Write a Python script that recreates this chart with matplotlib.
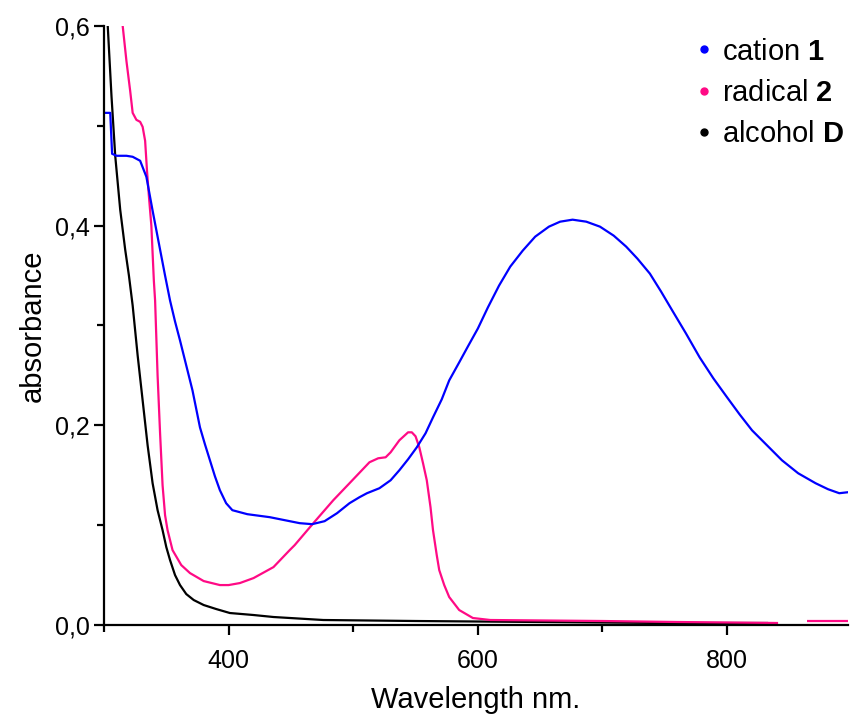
import numpy as np
import matplotlib.pyplot as plt
from matplotlib.lines import Line2D
from matplotlib.ticker import FuncFormatter, MultipleLocator

plt.rcParams['font.family'] = ['Liberation Sans', 'DejaVu Sans']
plt.rcParams['mathtext.fontset'] = 'custom'
plt.rcParams['mathtext.bf'] = 'Liberation Sans:bold'
plt.rcParams['mathtext.rm'] = 'Liberation Sans'

# cation 1 (blue)
wl_cation = [300, 305, 306.5, 310, 318, 323, 329, 334, 339, 345, 349, 353, 357, 361, 366,
             371, 377, 381, 385, 389, 393, 398, 403, 415, 433, 445, 457, 467, 477, 487,
             497, 505, 511, 521, 530, 537, 544, 551, 558, 564, 571, 577, 585, 592, 600,
             608, 617, 626, 636, 646, 657, 666, 676, 687, 698, 709, 719, 728, 738, 747,
             756, 767, 778, 789, 800, 810, 820, 832, 844, 857, 871, 881, 890, 897]
abs_cation = [0.513, 0.513, 0.472, 0.470, 0.470, 0.469, 0.465, 0.449, 0.415, 0.376, 0.350,
              0.325, 0.304, 0.285, 0.260, 0.235, 0.198, 0.181, 0.165, 0.149, 0.135, 0.122,
              0.115, 0.111, 0.108, 0.105, 0.102, 0.101, 0.104, 0.112, 0.122, 0.128, 0.132,
              0.137, 0.145, 0.155, 0.166, 0.178, 0.192, 0.208, 0.226, 0.245, 0.263, 0.279,
              0.297, 0.318, 0.340, 0.359, 0.375, 0.389, 0.399, 0.404, 0.406, 0.404, 0.399,
              0.390, 0.379, 0.367, 0.352, 0.334, 0.315, 0.292, 0.268, 0.247, 0.228, 0.211,
              0.195, 0.180, 0.165, 0.152, 0.142, 0.136, 0.132, 0.133]

# radical 2 (pink)
wl_radical = [314, 315, 318, 321, 323, 326, 329, 331, 333, 334.5, 336, 338, 340, 341, 343,
              345, 347, 349, 351, 355, 362, 369, 380, 393, 400, 409, 420, 436, 449, 453,
              468, 484, 497, 513, 520, 526, 530, 537, 544, 547, 550, 553, 556, 559, 562,
              564, 567, 569, 573, 577, 585, 596, 610, 700, 760, 840, 850, 865, 897]
abs_radical = [0.62, 0.600, 0.565, 0.535, 0.513, 0.506, 0.504, 0.499, 0.485, 0.455, 0.430,
               0.400, 0.345, 0.325, 0.250, 0.192, 0.140, 0.110, 0.095, 0.075, 0.060, 0.052,
               0.044, 0.040, 0.040, 0.042, 0.047, 0.058, 0.075, 0.080, 0.102, 0.125, 0.142,
               0.163, 0.167, 0.168, 0.173, 0.185, 0.193, 0.193, 0.189, 0.178, 0.162, 0.145,
               0.118, 0.095, 0.070, 0.055, 0.040, 0.028, 0.015, 0.007, 0.005, 0.004, 0.003,
               0.002, np.nan, 0.004, 0.004]

# alcohol D (black)
wl_alcohol = [301, 303, 306, 309, 313, 317, 320, 323, 327, 331, 335, 339, 343, 347, 350,
              353, 357, 361, 366, 372, 380, 390, 401, 420, 436, 476, 550, 650, 750, 832]
abs_alcohol = [0.63, 0.600, 0.530, 0.470, 0.416, 0.376, 0.350, 0.320, 0.270, 0.225, 0.180,
               0.142, 0.115, 0.095, 0.078, 0.065, 0.050, 0.040, 0.031, 0.025, 0.020, 0.016,
               0.012, 0.010, 0.008, 0.005, 0.004, 0.003, 0.002, 0.002]

blue = "#0000ff"
pink = "#ff0a85"

fig = plt.figure(figsize=(8.57, 7.21), dpi=100)
ax = fig.add_axes([104 / 857, 96 / 721, 744 / 857, 599 / 721])

ax.plot(wl_alcohol, abs_alcohol, color="black", lw=1.6)
ax.plot(wl_radical, abs_radical, color=pink, lw=1.6)
ax.plot(wl_cation, abs_cation, color=blue, lw=1.6)

ax.set_xlim(300, 897)
ax.set_ylim(0, 0.6)
ax.xaxis.set_major_locator(MultipleLocator(200))
ax.xaxis.set_minor_locator(MultipleLocator(100))
ax.yaxis.set_major_locator(MultipleLocator(0.2))
ax.yaxis.set_minor_locator(MultipleLocator(0.1))
ax.yaxis.set_major_formatter(FuncFormatter(lambda v, p: f"{v:.1f}".replace(".", ",")))

for s in ["top", "right"]:
    ax.spines[s].set_visible(False)
for s in ["left", "bottom"]:
    ax.spines[s].set_linewidth(1.6)
ax.tick_params(which="major", length=7, width=1.6, direction="out")
ax.tick_params(which="minor", length=5, width=1.6, direction="out")
ax.tick_params(axis="y", labelsize=18, pad=3)
ax.tick_params(axis="x", labelsize=18, pad=10)

ax.set_xlabel("Wavelength nm.", fontsize=21, labelpad=10)
ax.set_ylabel("absorbance", fontsize=21, labelpad=6)

handles = [Line2D([], [], ls="none", marker="o", ms=5, color=c) for c in [blue, pink, "black"]]
labels = [r"cation $\mathbf{1}$", r"radical $\mathbf{2}$", r"alcohol $\mathbf{D}$"]
ax.legend(handles, labels, loc="upper right", bbox_to_anchor=(1.01, 1.0), frameon=False,
          fontsize=21, handlelength=0.6, handletextpad=0.3, labelspacing=0.45,
          borderaxespad=0.0)

fig.savefig("out.png", dpi=100)
